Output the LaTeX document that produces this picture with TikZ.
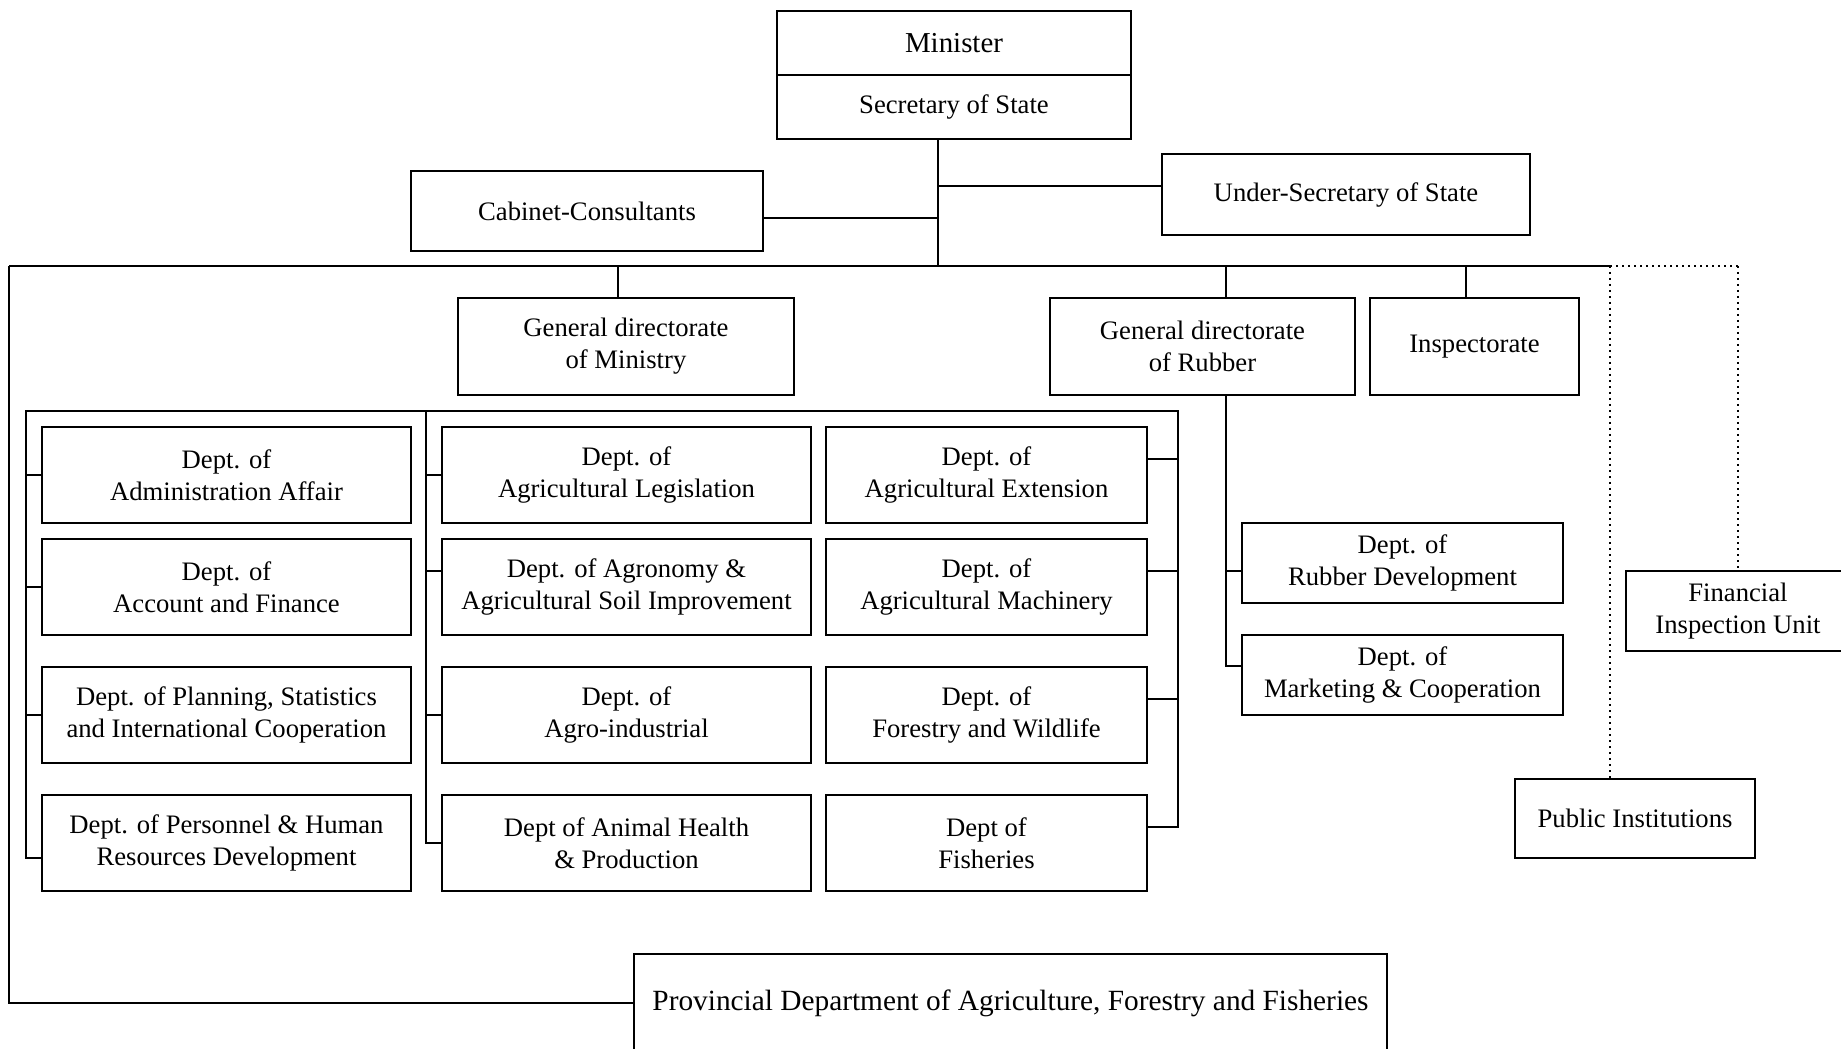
\documentclass[tikz,border=0pt]{standalone}
\usepackage{fontspec}
\setmainfont{Liberation Serif}
\tikzset{
  unit/.style={draw, line width=1pt, rectangle, align=center, inner sep=2pt,
    font=\fontsize{12}{14.3}\selectfont},
  wh/.style 2 args={minimum width=#1*0.45pt, minimum height=#2*0.45pt},
  deptwide/.style={unit, wh={369}{96}},
  deptnarrow/.style={unit, wh={321}{96}},
  link/.style={line width=0.8pt},
  weak/.style={line width=0.7pt, dotted},
}
\begin{document}
\begin{tikzpicture}[x=0.45pt,y=-0.45pt]
  \useasboundingbox (0,0) rectangle (1841,1049);

  % Direccion
  \node[unit, wh={354}{64}, font=\fontsize{13}{15}\selectfont] (minister) at (954,43) {Minister};
  \node[unit, wh={354}{64}] (secretary) at (954,107) {Secretary of State};
  \node[unit, wh={352}{80}] (cabinet) at (587,211) {Cabinet-Consultants};
  \node[unit, wh={368}{81}] (undersec) at (1346,194.5) {Under-Secretary of State};

  % Bus principal
  \coordinate (trunk) at (938,266);
  \coordinate (busl) at (9,266);
  \coordinate (busr) at (1610,266);
  \coordinate (busd) at (1738,266);

  \node[unit, wh={336}{97}] (gdmin) at (626,346.5) {General directorate\\of Ministry};
  \node[unit, wh={305}{97}] (gdrub) at (1202.5,346.5) {General directorate\\of Rubber};
  \node[unit, wh={209}{97}] (insp) at (1474.5,346.5) {Inspectorate};

  % Departamentos
  \node[deptwide] (a1) at (226.5,475) {Dept. of\\Administration Affair};
  \node[deptwide] (a2) at (226.5,587) {Dept. of\\Account and Finance};
  \node[deptwide] (a3) at (226.5,715) {Dept. of Planning, Statistics\\and International Cooperation};
  \node[deptwide] (a4) at (226.5,843) {Dept. of Personnel \& Human\\Resources Development};
  \node[deptwide] (b1) at (626.5,475) {Dept. of\\Agricultural Legislation};
  \node[deptwide] (b2) at (626.5,587) {Dept. of Agronomy \&\\Agricultural Soil Improvement};
  \node[deptwide] (b3) at (626.5,715) {Dept. of\\Agro-industrial};
  \node[deptwide] (b4) at (626.5,843) {Dept of Animal Health\\\& Production};
  \node[deptnarrow] (c1) at (986.5,475) {Dept. of\\Agricultural Extension};
  \node[deptnarrow] (c2) at (986.5,587) {Dept. of\\Agricultural Machinery};
  \node[deptnarrow] (c3) at (986.5,715) {Dept. of\\Forestry and Wildlife};
  \node[deptnarrow] (c4) at (986.5,843) {Dept of\\Fisheries};

  \node[unit, wh={321}{80}] (rubdev) at (1402.5,563) {Dept. of\\Rubber Development};
  \node[unit, wh={321}{80}] (market) at (1402.5,675) {Dept. of\\Marketing \& Cooperation};

  \node[unit, wh={224}{80}] (finunit) at (1738,611) {Financial\\Inspection Unit};
  \node[unit, wh={240}{79}] (public) at (1635,818.5) {Public Institutions};
  \node[unit, wh={753}{98}, font=\fontsize{13.2}{15}\selectfont] (provincial) at (1010.5,1003)
    {Provincial Department of Agriculture, Forestry and Fisheries};

  % Conexiones
  \begin{scope}[link]
    \draw (secretary.south -| trunk) -- (trunk);
    \draw ([yshift=-3.15pt]cabinet.east) -- ([yshift=-3.15pt]cabinet.east -| trunk);
    \draw ([yshift=3.8pt]undersec.west) -- ([yshift=3.8pt]undersec.west -| trunk);
    \draw (busl) -- (busr);
    \draw (busl) |- (provincial.west);
    \draw ([xshift=-3.6pt]gdmin.north) -- ([xshift=-3.6pt]gdmin.north |- busl);
    \draw ([xshift=10.6pt]gdrub.north) -- ([xshift=10.6pt]gdrub.north |- busl);
    \draw ([xshift=-3.8pt]insp.north) -- ([xshift=-3.8pt]insp.north |- busl);

    \coordinate (fl) at (26,411);
    \coordinate (fm) at (426,411);
    \coordinate (fr) at (1178,411);
    \draw ([yshift=-6.75pt]a4.west) -| (fl) -- (fr) |- ([yshift=7.2pt]c4.east);
    \draw (fm) |- (b4.west);
    \foreach \d in {a1,a2,a3} \draw (\d.west) -- (\d.west -| fl);
    \foreach \d in {b1,b3} \draw (\d.west) -- (\d.west -| fm);
    \draw ([yshift=7.2pt]b2.west) -- ([yshift=7.2pt]b2.west -| fm);
    \foreach \d in {c1,c2,c3} \draw ([yshift=7.2pt]\d.east) -- ([yshift=7.2pt]\d.east -| fr);

    \coordinate (rb) at ([xshift=10.6pt]gdrub.south);
    \draw (rb) |- ([yshift=4pt]market.west);
    \draw ([yshift=-3.6pt]rubdev.west) -- ([yshift=-3.6pt]rubdev.west -| rb);
  \end{scope}

  \begin{scope}[weak]
    \draw (busr) -- (busd);
    \draw (busr) -- (busr |- public.north);
    \draw (busd) -- (finunit.north);
  \end{scope}
\end{tikzpicture}
\end{document}
